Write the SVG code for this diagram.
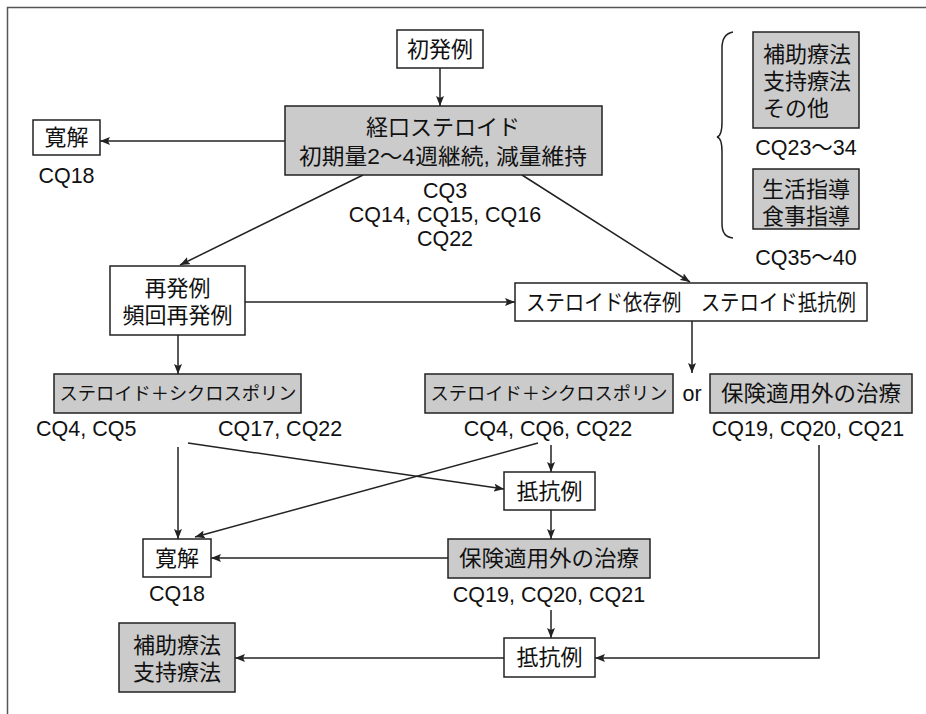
<svg xmlns="http://www.w3.org/2000/svg" width="926" height="714" viewBox="0 0 926 714">
<style>
.box{fill:#fff;stroke:#222;stroke-width:1.5}
.g{fill:#cbcbcb;stroke:#222;stroke-width:1.5}
.jp{font-family:"Liberation Sans","Noto Sans CJK JP",sans-serif;font-size:22px;fill:#111;text-anchor:middle}
.cq{font-family:"Liberation Sans","Noto Sans CJK JP",sans-serif;font-size:21.5px;fill:#111;text-anchor:middle}
.cy{font-size:18px}
.ln{fill:none;stroke:#222;stroke-width:1.5}
.ar{fill:none;stroke:#222;stroke-width:1.5;marker-end:url(#ah)}
</style>
<defs>
<marker id="ah" markerUnits="userSpaceOnUse" markerWidth="10" markerHeight="8" refX="10" refY="4" orient="auto">
<path d="M0,0 L10,4 L0,8 L2,4 z" fill="#222"/>
</marker>
</defs>
<rect width="926" height="714" fill="#fff"/>
<path d="M7.5,714 L7.5,7.5 L926,7.5" fill="none" stroke="#555" stroke-width="1.5"/>

<g id="connectors">
<path class="ar" d="M440,68 L440,106"/>
<path class="ar" d="M285,141 L100,141"/>
<path class="ar" d="M363,175 L180,265"/>
<path class="ar" d="M522,175 L690,282"/>
<path class="ar" d="M245,302 L515,302"/>
<path class="ar" d="M178,335 L178,374"/>
<path class="ar" d="M692,321 L692,373"/>
<path class="ar" d="M178,447 L178,539"/>
<path class="ar" d="M188,443 L504,489"/>
<path class="ar" d="M538,443 L195,537"/>
<path class="ar" d="M551,445 L551,472"/>
<path class="ar" d="M551,510 L551,539"/>
<path class="ar" d="M448,558 L211,558"/>
<path class="ar" d="M551,610 L551,638"/>
<path class="ar" d="M819,445 L819,658 L595,658"/>
<path class="ar" d="M504,658 L235,658"/>
<path class="ln" d="M733,32 Q722,34 722,48 L722,122 Q722,136 717,137 Q722,138 722,152 L722,224 Q722,237 733,238"/>
</g>

<g id="n-shohatsu">
<rect class="box" x="397" y="30" width="86" height="38"/>
<text class="jp" x="440" y="57">初発例</text>
</g>
<g id="n-keiko">
<rect class="g" x="285" y="106" width="317" height="69"/>
<text class="jp" x="443" y="135">経口ステロイド</text>
<text class="jp" x="443" y="164" textLength="288" lengthAdjust="spacingAndGlyphs">初期量2～4週継続, 減量維持</text>
</g>
<g id="cq-keiko">
<text class="cq" x="445" y="198">CQ3</text>
<text class="cq" x="445" y="222">CQ14, CQ15, CQ16</text>
<text class="cq" x="445" y="246">CQ22</text>
</g>
<g id="n-kankai1">
<rect class="box" x="33" y="120" width="67" height="35"/>
<text class="jp" x="66.5" y="145">寛解</text>
<text class="cq" x="66.5" y="183">CQ18</text>
</g>
<g id="n-hojo1">
<rect class="g" x="753" y="32" width="106" height="96"/>
<text class="jp" x="763" y="62" style="text-anchor:start">補助療法</text>
<text class="jp" x="763" y="89" style="text-anchor:start">支持療法</text>
<text class="jp" x="763" y="116" style="text-anchor:start">その他</text>
<text class="cq" x="806" y="155">CQ23～34</text>
</g>
<g id="n-seikatsu">
<rect class="g" x="753" y="169" width="106" height="60"/>
<text class="jp" x="806" y="197">生活指導</text>
<text class="jp" x="806" y="224">食事指導</text>
<text class="cq" x="806" y="265">CQ35～40</text>
</g>
<g id="n-saihatsu">
<rect class="box" x="110" y="266" width="135" height="69"/>
<text class="jp" x="177.5" y="296">再発例</text>
<text class="jp" x="177.5" y="323">頻回再発例</text>
</g>
<g id="n-izon">
<rect class="box" x="515" y="283" width="352" height="38"/>
<text class="jp" x="691" y="310" textLength="330" lengthAdjust="spacingAndGlyphs">ステロイド依存例　ステロイド抵抗例</text>
</g>
<g id="n-cyc1">
<rect class="g" x="54" y="374" width="247" height="39"/>
<text class="jp cy" x="178" y="400" textLength="237" lengthAdjust="spacingAndGlyphs">ステロイド＋シクロスポリン</text>
<text class="cq" x="36" y="436" style="text-anchor:start">CQ4, CQ5</text>
<text class="cq" x="218" y="436" style="text-anchor:start">CQ17, CQ22</text>
</g>
<g id="n-cyc2">
<rect class="g" x="425" y="374" width="248" height="39"/>
<text class="jp cy" x="549" y="400" textLength="237" lengthAdjust="spacingAndGlyphs">ステロイド＋シクロスポリン</text>
<text class="cq" x="548" y="436">CQ4, CQ6, CQ22</text>
</g>
<g id="or">
<text class="cq" x="692" y="401">or</text>
</g>
<g id="n-hoken1">
<rect class="g" x="710" y="374" width="202" height="39"/>
<text class="jp" x="811" y="401" textLength="180" lengthAdjust="spacingAndGlyphs">保険適用外の治療</text>
<text class="cq" x="808" y="436">CQ19, CQ20, CQ21</text>
</g>
<g id="n-teiko1">
<rect class="box" x="504" y="472" width="91" height="38"/>
<text class="jp" x="549.5" y="499">抵抗例</text>
</g>
<g id="n-kankai2">
<rect class="box" x="143" y="539" width="68" height="38"/>
<text class="jp" x="177" y="566">寛解</text>
<text class="cq" x="177" y="601">CQ18</text>
</g>
<g id="n-hoken2">
<rect class="g" x="448" y="539" width="202" height="39"/>
<text class="jp" x="549" y="566" textLength="180" lengthAdjust="spacingAndGlyphs">保険適用外の治療</text>
<text class="cq" x="549" y="602">CQ19, CQ20, CQ21</text>
</g>
<g id="n-teiko2">
<rect class="box" x="504" y="638" width="91" height="39"/>
<text class="jp" x="549.5" y="665">抵抗例</text>
</g>
<g id="n-hojo2">
<rect class="g" x="119" y="623" width="116" height="69"/>
<text class="jp" x="177" y="653">補助療法</text>
<text class="jp" x="177" y="680">支持療法</text>
</g>
</svg>
